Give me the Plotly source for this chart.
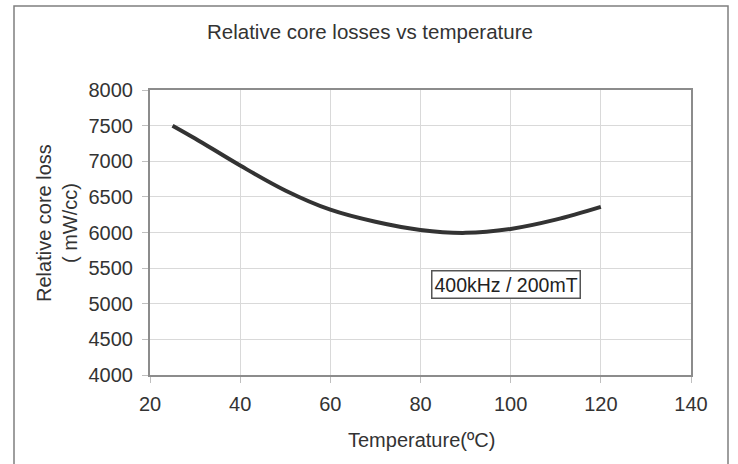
import plotly.graph_objects as go

temperature = [25, 30, 40, 50, 60, 70, 80, 90, 100, 110, 120]
core_loss = [7500, 7320, 6940, 6590, 6320, 6150, 6035, 5995, 6050, 6180, 6360]

x_ticks = [20, 40, 60, 80, 100, 120, 140]
y_ticks = [4000, 4500, 5000, 5500, 6000, 6500, 7000, 7500, 8000]

title_text = "Relative core losses vs temperature"
x_title = "Temperature(ºC)"
y_title = "Relative core loss<br>( mW/cc)"
annotation_text = "400kHz / 200mT"

FONT = "Liberation Sans, Arial, sans-serif"
TXT = "#333333"
L, R, T, B = 150, 47, 90, 89
W, H = 738, 464
pw, ph = W - L - R, H - T - B


def px(xp):
    return (xp - L) / pw


def py(yp):
    return (H - B - yp) / ph


fig = go.Figure()
fig.add_trace(go.Scatter(
    x=temperature, y=core_loss, mode="lines",
    line=dict(color="#333333", width=4, shape="spline", smoothing=1.0),
    hoverinfo="skip", showlegend=False,
))

axis_common = dict(
    showgrid=True, gridcolor="#d9d9d9", gridwidth=1,
    showline=True, linecolor="#8c8c8c", linewidth=2, mirror=True,
    ticks="outside", ticklen=6, tickcolor="#bfbfbf", tickwidth=1,
    tickfont=dict(family=FONT, size=20, color=TXT),
    zeroline=False,
)

fig.update_xaxes(range=[20, 140], tickvals=x_ticks, ticklabelstandoff=4, **axis_common)
fig.update_yaxes(range=[4000, 8000], tickvals=y_ticks, ticklabelstandoff=5, **axis_common)

fig.update_layout(
    width=W, height=H,
    margin=dict(l=L, r=R, t=T, b=B),
    paper_bgcolor="white", plot_bgcolor="white",
    font=dict(family=FONT, color=TXT),
    annotations=[
        dict(text=title_text, xref="paper", yref="paper", x=px(370), y=py(31),
             xanchor="center", yanchor="middle", showarrow=False,
             font=dict(family=FONT, size=20.5, color=TXT)),
        dict(text=x_title, xref="paper", yref="paper", x=px(421), y=py(440),
             xanchor="center", yanchor="middle", showarrow=False,
             font=dict(family=FONT, size=20, color=TXT)),
        dict(text=y_title, xref="paper", yref="paper", x=px(57), y=py(223),
             xanchor="center", yanchor="middle", showarrow=False, textangle=-90,
             font=dict(family=FONT, size=20, color=TXT)),
        dict(text=annotation_text, xref="x", yref="y",
             x=20 + (505.5 - L) / pw * 120, y=4000 + (H - B - 284) / ph * 4000,
             showarrow=False, font=dict(family=FONT, size=19.5, color="#222222"),
             bordercolor="#555555", borderwidth=1.5, borderpad=2, bgcolor="white"),
    ],
    shapes=[dict(
        type="rect", xref="paper", yref="paper", layer="above",
        x0=px(14), x1=px(728), y0=py(475), y1=py(6),
        line=dict(color="#7f7f7f", width=1.5), fillcolor="rgba(0,0,0,0)",
    )],
)

fig.write_html("out.html", config={"displayModeBar": False},
               post_script="document.body.style.margin='0';")
